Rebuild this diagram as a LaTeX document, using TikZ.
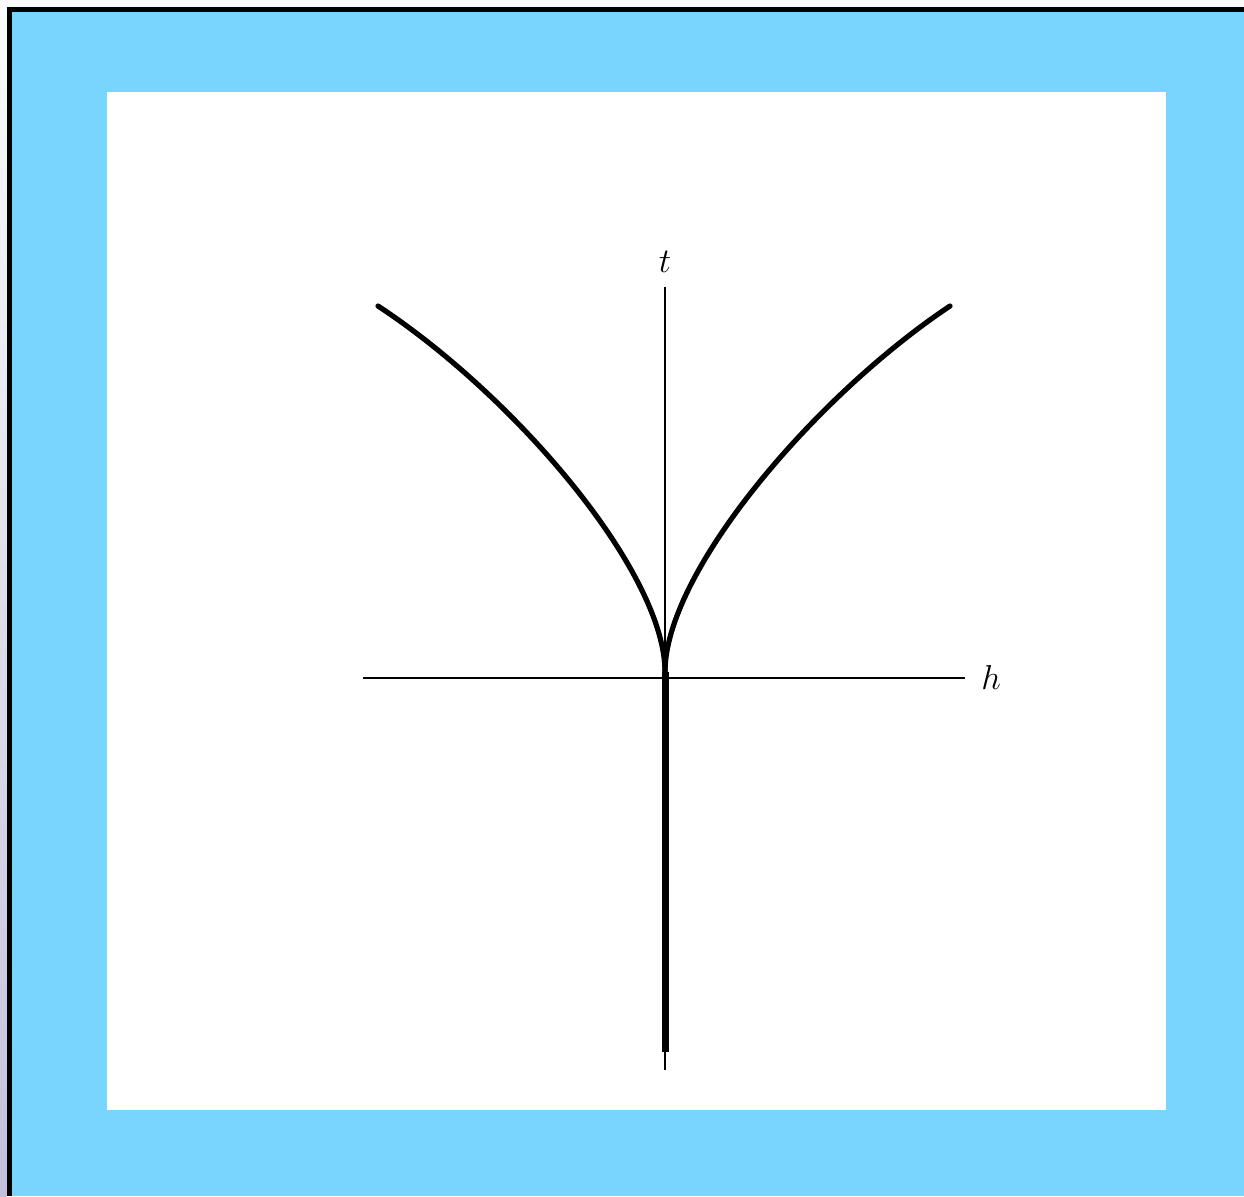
\documentclass[tikz,border=0pt]{standalone}
\usepackage{tikz}
\definecolor{skyfill}{HTML}{78D5FE}
\definecolor{lavstrip}{HTML}{C4C0DC}
\tikzset{
  axisline/.style={line width=1pt, black},
  branch/.style={line width=2.6pt, black, line cap=round},
  stem/.style={line width=3.5pt, black},
  axislabel/.style={font=\fontsize{17}{20}\selectfont, inner sep=0pt}
}
\begin{document}
\begin{tikzpicture}[x=0.5pt,y=-0.5pt]
\useasboundingbox (0,0) rectangle (1244,1196);
% outer frame
\fill[white!96!gray] (0,0) rectangle (1244,7);
\shade[top color=white!97!gray, bottom color=lavstrip] (0,7) rectangle (7,1196);
\fill[black] (7,7) rectangle (1244,12);
\fill[black] (7,7) rectangle (12,1196);
\fill[skyfill] (12,12) rectangle (1244,1196);
\fill[white] (107,92) rectangle (1166,1110);
% coordinates
\coordinate (cusp) at (665,672);
\coordinate (hleft) at (363,678);
\coordinate (hright) at (965,678);
\coordinate (ttop) at (665,287);
\coordinate (tbot) at (665,1070);
\coordinate (stemend) at (665,1052);
\coordinate (rend) at (950,306);
\coordinate (lend) at (378,306);
% axes
\draw[axisline] (hleft) -- (hright);
\draw[axisline] (ttop) -- (tbot);
\node[axislabel] (tlab) at (665,262) {$t$};
\node[axislabel] (hlab) at (991,677) {$h$};
% branches
\draw[branch] (cusp) .. controls (665,572) and (815,396) .. (rend);
\draw[branch] (cusp) .. controls (665,572) and (515,396) .. (lend);
% stem
\draw[stem] (cusp) -- (stemend);
\end{tikzpicture}
\end{document}
